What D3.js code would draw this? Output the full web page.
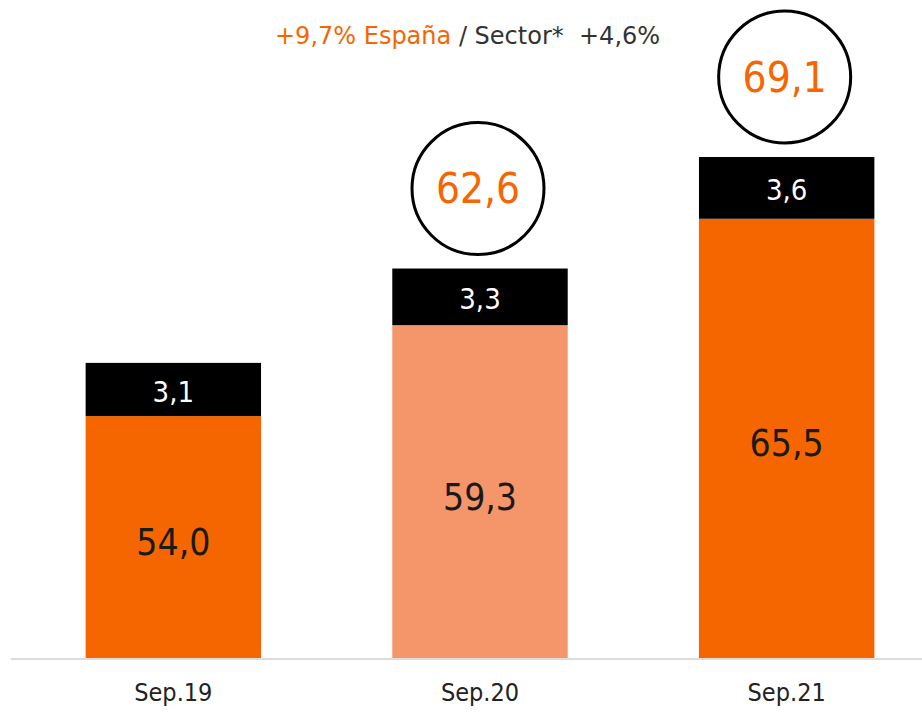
<!DOCTYPE html>
<html lang="es">
<head>
<meta charset="UTF-8">
<title>Sep.19 - Sep.21</title>
<script src="https://cdn.jsdelivr.net/npm/d3@7"></script>
<style>
  body { margin: 0; background: #fff; }
  text { font-family: "DejaVu Sans Condensed", "DejaVu Sans", sans-serif; }
</style>
</head>
<body>
<script>
    // datos
    var periods = ["Sep.19", "Sep.20", "Sep.21"];
    var mainValues = [54.0, 59.3, 65.5];
    var topValues = [3.1, 3.3, 3.6];
    var mainColors = ["#f66600", "#f4956a", "#f66600"];
    var circled = [false, true, true];
    var headOrange = "+9,7% España";
    var headGrey = " / Sector*  +4,6%";

    var width = 922, height = 714;
    var svg = d3.select("body").append("svg")
        .attr("width", width)
        .attr("height", height);

    var fmt = function (v) { return v.toFixed(1).replace(".", ","); };

    var x = d3.scaleBand()
        .domain(periods)
        .range([20, 940])
        .paddingInner(0.428)
        .paddingOuter(0.214);

    // el eje no empieza en 0
    var y = d3.scaleLinear()
        .domain([39.9, 69.1])
        .range([658, 157]);

    // barra principal
    svg.selectAll("rect.main")
        .data(periods)
        .enter().append("rect")
        .attr("class", "main")
        .attr("x", function (d) { return x(d); })
        .attr("width", x.bandwidth())
        .attr("y", function (d, i) { return y(mainValues[i]); })
        .attr("height", function (d, i) { return y.range()[0] - y(mainValues[i]); })
        .attr("fill", function (d, i) { return mainColors[i]; });

    // segmento negro
    svg.selectAll("rect.top")
        .data(periods)
        .enter().append("rect")
        .attr("class", "top")
        .attr("x", function (d) { return x(d); })
        .attr("width", x.bandwidth())
        .attr("y", function (d, i) { return y(mainValues[i] + topValues[i]); })
        .attr("height", function (d, i) { return y(mainValues[i]) - y(mainValues[i] + topValues[i]); })
        .attr("fill", "#000");

    // eje
    svg.append("line")
        .attr("x1", 11).attr("x2", width)
        .attr("y1", 659).attr("y2", 659)
        .attr("stroke", "#dcdcdc")
        .attr("stroke-width", 2);

    svg.selectAll("text.cat")
        .data(periods)
        .enter().append("text")
        .attr("class", "cat")
        .attr("x", function (d) { return x(d) + x.bandwidth() / 2; })
        .attr("y", 701)
        .attr("text-anchor", "middle")
        .attr("font-size", 25)
        .attr("fill", "#222")
        .text(function (d) { return d; });

    // etiquetas
    svg.selectAll("text.mainlbl")
        .data(periods)
        .enter().append("text")
        .attr("class", "mainlbl")
        .attr("x", function (d) { return x(d) + x.bandwidth() / 2; })
        .attr("y", function (d, i) { return (y(mainValues[i]) + y.range()[0]) / 2 + 5; })
        .attr("dy", "0.35em")
        .attr("text-anchor", "middle")
        .attr("font-size", 37)
        .attr("fill", "#1a1a1a")
        .text(function (d, i) { return fmt(mainValues[i]); });

    svg.selectAll("text.toplbl")
        .data(periods)
        .enter().append("text")
        .attr("class", "toplbl")
        .attr("x", function (d) { return x(d) + x.bandwidth() / 2; })
        .attr("y", function (d, i) { return (y(mainValues[i]) + y(mainValues[i] + topValues[i])) / 2 + 2; })
        .attr("dy", "0.35em")
        .attr("text-anchor", "middle")
        .attr("font-size", 29)
        .attr("fill", "#fff")
        .text(function (d, i) { return fmt(topValues[i]); });

    // circulos con total
    var circ = svg.selectAll("g.total")
        .data(periods.filter(function (d, i) { return circled[i]; }))
        .enter().append("g")
        .attr("class", "total")
        .attr("transform", function (d) {
            var i = periods.indexOf(d);
            return "translate(" + (x(d) + x.bandwidth() / 2 - 2) + "," + (y(mainValues[i] + topValues[i]) - 80) + ")";
        });
    circ.append("circle")
        .attr("r", 66)
        .attr("fill", "none")
        .attr("stroke", "#000")
        .attr("stroke-width", 3);
    circ.append("text")
        .attr("text-anchor", "middle")
        .attr("dy", "0.35em")
        .attr("font-size", 42)
        .attr("fill", "#f66600")
        .text(function (d) {
            var i = periods.indexOf(d);
            return fmt(mainValues[i] + topValues[i]);
        });

    // titulo
    var head = svg.append("text")
        .attr("x", 275)
        .attr("y", 44)
        .attr("font-size", 24)
        .style("font-family", "'DejaVu Sans', sans-serif");
    head.append("tspan").attr("fill", "#f66600").text(headOrange);
    head.append("tspan").attr("fill", "#333").attr("xml:space", "preserve").text(headGrey);
</script>
</body>
</html>
